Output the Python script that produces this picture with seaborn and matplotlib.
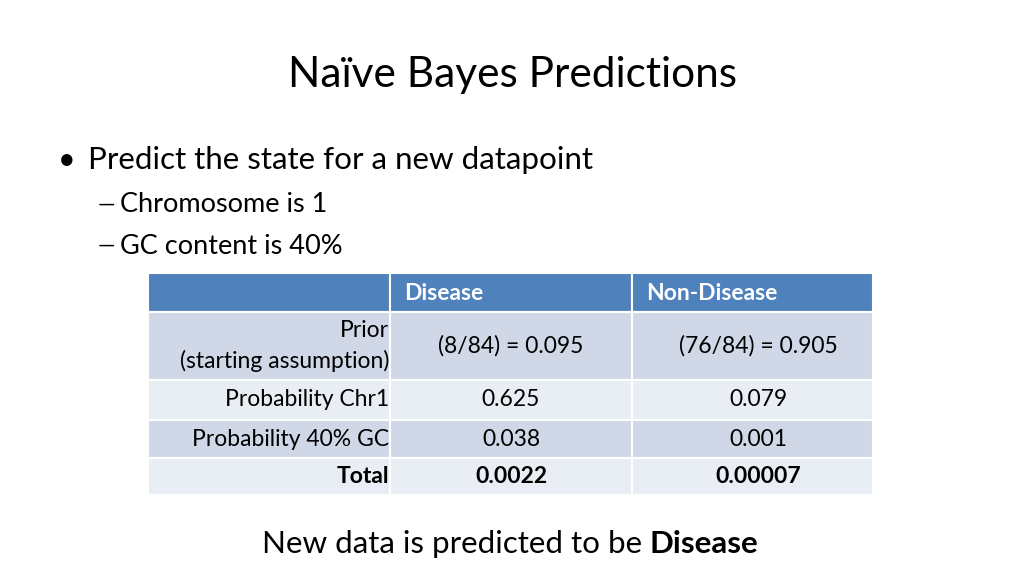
import matplotlib
matplotlib.use("Agg")
import matplotlib.pyplot as plt
import seaborn as sns
from matplotlib.patches import Rectangle

# --- table content ---
col_headers = ["", "Disease", "Non-Disease"]
row_labels = ["Prior\n(starting assumption)", "Probability Chr1", "Probability 40% GC", "Total"]
disease = ["(8/84) = 0.095", "0.625", "0.038", "0.0022"]
non_disease = ["(76/84) = 0.905", "0.079", "0.001", "0.00007"]

sns.set_theme(style="white")
plt.rcParams['font.family'] = ['Lato', 'DejaVu Sans']
plt.rcParams['text.color'] = 'black'

fig = plt.figure(figsize=(10.24, 5.75), dpi=100)
ax = fig.add_axes([0, 0, 1, 1])
ax.set_xlim(0, 1024)
ax.set_ylim(575, 0)
ax.axis("off")

ax.text(512, 75, "Naïve Bayes Predictions", fontsize=30.5, ha="center", va="center")
ax.text(58, 160, "•", fontsize=22, va="center")
ax.text(88, 160, "Predict the state for a new datapoint", fontsize=22.6, va="center")
ax.text(98, 205, "—", fontsize=16, va="center")
ax.text(120, 205, "Chromosome is 1", fontsize=19.5, va="center")
ax.text(98, 246, "—", fontsize=16, va="center")
ax.text(120, 246, "GC content is 40%", fontsize=19.5, va="center")

# table geometry
col_x = [148, 390, 632, 873]
row_y = [273, 312, 380, 420, 458, 495]
fills = ["#4F81BD", "#D0D8E8", "#E9EDF4", "#D0D8E8", "#E9EDF4"]
for r in range(5):
    for c in range(3):
        ax.add_patch(Rectangle((col_x[c], row_y[r]), col_x[c + 1] - col_x[c],
                               row_y[r + 1] - row_y[r], facecolor=fills[r],
                               edgecolor="white", linewidth=1.5))

fs = 16.5
for c in (1, 2):
    ax.text(col_x[c] + 14, (row_y[0] + row_y[1]) / 2 + 1, col_headers[c], fontsize=fs,
            color="white", weight="bold", va="center")
for i, (lab, d, n) in enumerate(zip(row_labels, disease, non_disease)):
    yc = (row_y[i + 1] + row_y[i + 2]) / 2
    w = "bold" if lab == "Total" else "normal"
    ax.text(col_x[1] - 1, yc, lab, fontsize=fs, ha="right", va="center",
            weight=w, linespacing=1.45, multialignment="right")
    ax.text((col_x[1] + col_x[2]) / 2, yc, d, fontsize=fs, ha="center", va="center", weight=w)
    ax.text((col_x[2] + col_x[3]) / 2 + 6, yc, n, fontsize=fs, ha="center", va="center", weight=w)

ax.text(650, 544, "New data is predicted to be ", fontsize=22.6, ha="right", va="center")
ax.text(650, 544, "Disease", fontsize=22.6, ha="left", va="center", weight="bold")

fig.savefig("out.png", dpi=100)
